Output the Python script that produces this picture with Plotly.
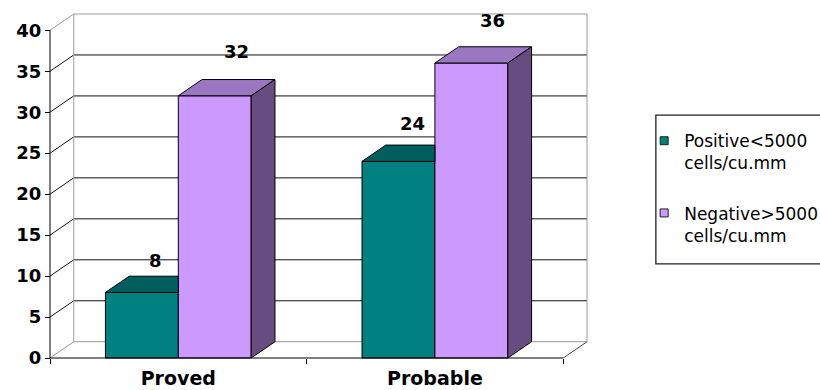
import plotly.graph_objects as go

# ---------------- data ----------------
categories = ["Proved", "Probable"]
positive = [8, 24]
negative = [32, 36]
series_names = ["Positive<5000<br>cells/cu.mm", "Negative>5000<br>cells/cu.mm"]
y_ticks = [0, 5, 10, 15, 20, 25, 30, 35, 40]

# ---------------- styling / geometry ----------------
FONT = "DejaVu Sans"
TEAL, TEAL_TOP = "#008080", "#005E5E"
PURPLE, PURPLE_TOP, PURPLE_SIDE = "#CC99FF", "#9B77C2", "#664C80"
WALL = "#9A9A9A"

FIG_W, FIG_H = 820, 390
AX_LEFT, AX_BOTTOM = 49.5, 358.3      # pixel position of the front axes corner
PX_X, PX_Y = 256.75, 8.21             # pixels per category unit / per value unit
DX, DY = 23.8, 16.3                   # 3-D depth offset in pixels
PAD = 4
YMAX = 40
BW = 0.284                            # bar width in category units
LABEL_DX = [14, 21.5]
LABEL_DY = [[32, 38], [44, 43]]

xs = list(range(len(categories)))
ddx, ddy = DX / PX_X, DY / PX_Y
x0f, x1f = -0.5, len(categories) - 0.5
xmax = x1f + ddx
x_lo, x_hi = x0f - PAD / PX_X, xmax + PAD / PX_X
y_lo, y_hi = -PAD / PX_Y, YMAX + ddy + PAD / PX_Y
W = (x_hi - x_lo) * PX_X
H = (y_hi - y_lo) * PX_Y
ml = AX_LEFT - PAD
mb = FIG_H - AX_BOTTOM - PAD
mr = FIG_W - ml - W
mt = FIG_H - mb - H


def paper_x(px):
    return (px - ml) / W


def paper_y(py):
    return (FIG_H - mb - py) / H


fig = go.Figure()

# front faces
fig.add_trace(go.Bar(x=xs, y=positive, width=BW, offset=-BW, marker=dict(color=TEAL, line=dict(color="black", width=1)),
                     showlegend=False, hoverinfo="skip"))
fig.add_trace(go.Bar(x=xs, y=negative, width=BW, offset=0, marker=dict(color=PURPLE, line=dict(color="black", width=1)),
                     showlegend=False, hoverinfo="skip"))

# 3-D faces
tx, ty = [], []
for c, v in zip(xs, positive):
    a, b = c - BW, c
    tx += [a, b, b, a + ddx, a, None]
    ty += [v, v, v + ddy, v + ddy, v, None]
fig.add_trace(go.Scatter(x=tx, y=ty, mode="lines", fill="toself", fillcolor=TEAL_TOP,
                         line=dict(color="black", width=1), showlegend=False, hoverinfo="skip"))
px_, py_, sx, sy = [], [], [], []
for c, v in zip(xs, negative):
    a, b = c, c + BW
    px_ += [a, b, b + ddx, a + ddx, a, None]
    py_ += [v, v, v + ddy, v + ddy, v, None]
    sx += [b, b, b + ddx, b + ddx, b, None]
    sy += [0, v, v + ddy, ddy, 0, None]
fig.add_trace(go.Scatter(x=px_, y=py_, mode="lines", fill="toself", fillcolor=PURPLE_TOP,
                         line=dict(color="black", width=1), showlegend=False, hoverinfo="skip"))
fig.add_trace(go.Scatter(x=sx, y=sy, mode="lines", fill="toself", fillcolor=PURPLE_SIDE,
                         line=dict(color="black", width=1), showlegend=False, hoverinfo="skip"))

# legend entries
for name, col in zip(series_names, [TEAL, PURPLE]):
    fig.add_trace(go.Scatter(x=[None], y=[None], mode="markers", name=name, legendgroup=name,
                             marker=dict(symbol="square", size=8, color=col, line=dict(color="#222", width=1))))

shapes = []
# back wall gridlines + left wall diagonals
for v in y_ticks[1:-1]:
    shapes.append(dict(type="path", xref="x", yref="y", layer="below",
                       path=f"M{x0f},{v} L{x0f + ddx},{v + ddy} L{xmax},{v + ddy}",
                       line=dict(color="#111", width=1)))
# wall outlines
wall_lines = [
    (x0f + ddx, ddy, x0f + ddx, YMAX + ddy),
    (x0f + ddx, YMAX + ddy, xmax, YMAX + ddy),
    (xmax, ddy, xmax, YMAX + ddy),
    (x0f + ddx, ddy, xmax, ddy),
    (x0f, YMAX, x0f + ddx, YMAX + ddy),
    (x0f, 0, x0f + ddx, ddy),
]
for a, b, c, d in wall_lines:
    shapes.append(dict(type="line", xref="x", yref="y", layer="below", x0=a, y0=b, x1=c, y1=d,
                       line=dict(color=WALL, width=1)))
shapes.append(dict(type="line", xref="x", yref="y", layer="below", x0=x1f, y0=0, x1=xmax, y1=ddy,
                   line=dict(color="#444", width=1)))
# front axes
shapes.append(dict(type="line", xref="x", yref="y", layer="above", x0=x0f, y0=0, x1=x0f, y1=YMAX,
                   line=dict(color="black", width=1)))
shapes.append(dict(type="line", xref="x", yref="y", layer="above", x0=x0f, y0=0, x1=x1f, y1=0,
                   line=dict(color="black", width=1)))
# legend box
shapes.append(dict(type="rect", xref="paper", yref="paper", x0=paper_x(655.7), x1=paper_x(840),
                   y0=paper_y(264), y1=paper_y(115), line=dict(color="#222", width=1.3)))

annotations = []
for si, vals in enumerate([positive, negative]):
    for ci, (c, v) in enumerate(zip(xs, vals)):
        cx = c - BW / 2 if si == 0 else c + BW / 2
        annotations.append(dict(x=cx, y=v, xref="x", yref="y", text=str(v), showarrow=False,
                                xshift=LABEL_DX[si], yshift=LABEL_DY[si][ci],
                                font=dict(family=FONT, size=18, color="black", weight="bold")))

fig.update_layout(
    width=FIG_W, height=FIG_H,
    margin=dict(l=ml, r=mr, t=mt, b=mb, pad=0, autoexpand=False),
    paper_bgcolor="white", plot_bgcolor="white",
    barmode="overlay",
    shapes=shapes, annotations=annotations,
    showlegend=True,
    legend=dict(x=paper_x(644), y=paper_y(123), xanchor="left", yanchor="top",
                font=dict(family=FONT, size=17, color="black"), valign="top",
                traceorder="grouped", tracegroupgap=25, bgcolor="rgba(0,0,0,0)", borderwidth=0),
    xaxis=dict(range=[x_lo, x_hi], tickvals=xs, ticktext=categories, ticks="", showgrid=False,
               zeroline=False, showline=False, anchor="free", position=PAD / H, ticklabelstandoff=7,
               tickfont=dict(family=FONT, size=19, color="black", weight="bold"),
               minor=dict(tickvals=[x0f + i for i in range(len(categories) + 1)], ticks="outside",
                          ticklen=5, tickcolor="black", showgrid=False)),
    yaxis=dict(range=[y_lo, y_hi], tickvals=y_ticks, ticks="outside", ticklen=5, tickcolor="black",
               showgrid=False, zeroline=False, showline=False, anchor="free", position=PAD / W,
               tickfont=dict(family=FONT, size=18, color="black", weight="bold")),
)

fig.write_html("out.html")
